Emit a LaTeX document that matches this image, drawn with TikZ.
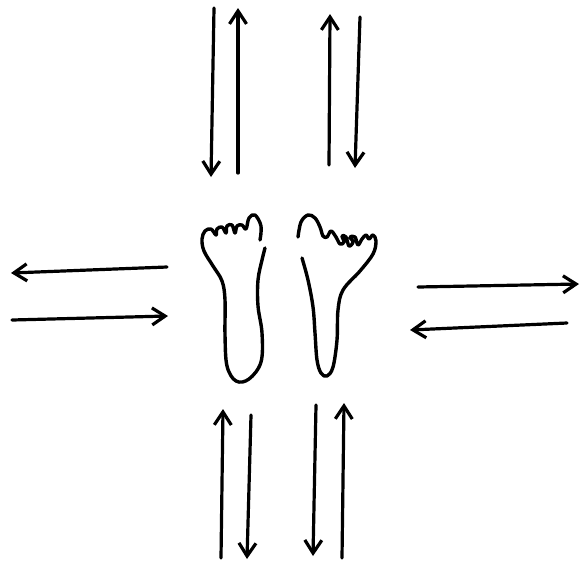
\documentclass[tikz,border=0pt]{standalone}
\usetikzlibrary{arrows.meta}
\begin{document}
\begin{tikzpicture}[x=1pt,y=-1pt,
  ink/.style={line width=3.2pt,line cap=round,line join=round,black},
  arr/.style={ink,-{Straight Barb[length=13pt,width=17pt]}},
  foot/.style={ink,line width=3.4pt}]
\useasboundingbox (0,0) rectangle (580,563);
% top
\coordinate (a1) at (214,8);   \coordinate (a2) at (211,177);
\coordinate (b1) at (238,173); \coordinate (b2) at (238,8);
\coordinate (c1) at (329,165); \coordinate (c2) at (330,14);
\coordinate (d1) at (360,17);  \coordinate (d2) at (355,168);
% bottom
\coordinate (e1) at (221,558); \coordinate (e2) at (223,409);
\coordinate (f1) at (251,415); \coordinate (f2) at (247,559);
\coordinate (g1) at (316,405); \coordinate (g2) at (313,556);
\coordinate (h1) at (342,558); \coordinate (h2) at (344,403);
% left
\coordinate (i1) at (167,267); \coordinate (i2) at (11,273);
\coordinate (j1) at (12,320);  \coordinate (j2) at (168,316);
% right
\coordinate (k1) at (418,287); \coordinate (k2) at (579,284);
\coordinate (l1) at (567,323); \coordinate (l2) at (410,330);
\draw[arr] (a1) -- (a2);
\draw[arr] (b1) -- (b2);
\draw[arr] (c1) -- (c2);
\draw[arr] (d1) -- (d2);
\draw[arr] (e1) -- (e2);
\draw[arr] (f1) -- (f2);
\draw[arr] (g1) -- (g2);
\draw[arr] (h1) -- (h2);
\draw[arr] (i1) -- (i2);
\draw[arr] (j1) -- (j2);
\draw[arr] (k1) -- (k2);
\draw[arr] (l1) -- (l2);
% left foot
\draw[foot] plot[smooth,tension=0.6] coordinates {
 (260,240) (261,226) (255,215) (249,218) (246,229)
 (242,225) (237,226) (235,233)
 (232,225) (227,226) (226,233)
 (222,227) (217,229) (216,235)
 (211,229) (205,231) (202,239)
 (204,251) (213,266) (222,281) (225,300) (225,335) (227,366)
 (236,381) (249,379) (261,362) (262,333) (258,306) (258,280) (262,260) (265,248)};
% right foot
\draw[foot] plot[smooth,tension=0.6] coordinates {
 (302,258) (308,280) (313,307) (315,333) (317,360) (321,373)
 (327,376) (333,367) (337,340) (338,310) (343,290) (360,271) (373,254) (376,241)
 (373,235) (369,239) (366,235) (362,239) (358,245)
 (355,237) (350,237) (353,242) (349,246)
 (346,237) (342,236) (344,242) (340,244)
 (336,237) (331,231) (327,237) (323,236)
 (320,227) (315,218) (308,215) (301,222) (298,237)};
\end{tikzpicture}
\end{document}
